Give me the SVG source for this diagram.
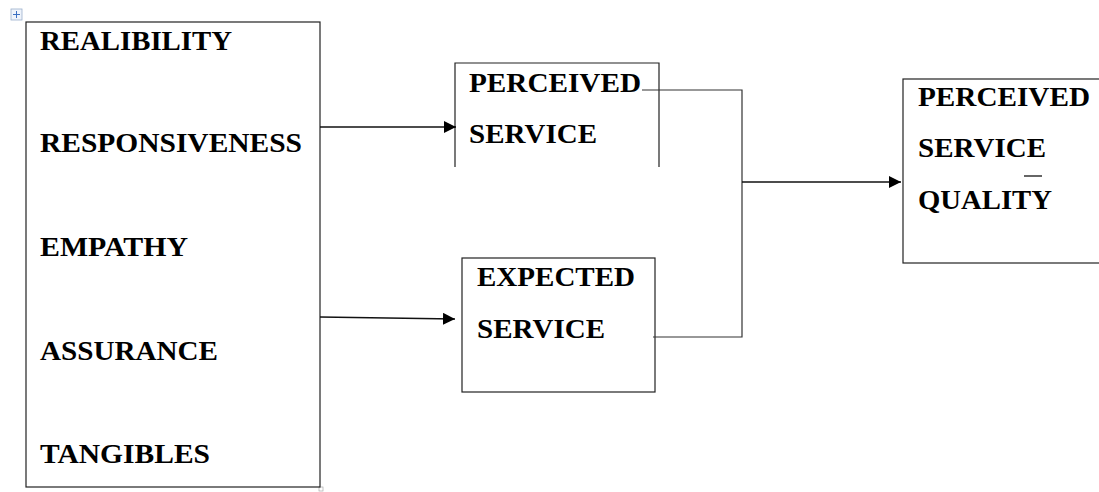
<svg xmlns="http://www.w3.org/2000/svg" width="1099" height="492" viewBox="0 0 1099 492">
<style>
text{font-family:"Liberation Serif","Times New Roman",serif;font-weight:bold;font-size:28px;fill:#000}
.box{fill:none;stroke:#222;stroke-width:1.2}
.ln{fill:none;stroke:#333;stroke-width:1.2}
.ar{fill:none;stroke:#111;stroke-width:1.6}
</style>
<defs>
<marker id="ah" markerWidth="12" markerHeight="12" refX="12" refY="6" orient="auto" markerUnits="userSpaceOnUse">
<path d="M0,0 L12,6 L0,12 Z" fill="#000"/>
</marker>
</defs>
<rect width="1099" height="492" fill="#fff"/>
<g id="handle">
<rect x="11" y="9" width="11" height="11" fill="#eef3fb" stroke="#9bb0cc" stroke-width="0.8"/>
<path d="M16.5,11 V18 M13,14.5 H20" stroke="#3a6fc2" stroke-width="1"/>
<rect x="319" y="487" width="4" height="4" fill="#fff" stroke="#aaa" stroke-width="0.7"/>
</g>
<g id="dimensions">
<rect class="box" x="26" y="22" width="294" height="465"/>
<text x="40" y="50" textLength="192" lengthAdjust="spacingAndGlyphs">REALIBILITY</text>
<text x="40" y="152" textLength="262" lengthAdjust="spacingAndGlyphs">RESPONSIVENESS</text>
<text x="40" y="256" textLength="148" lengthAdjust="spacingAndGlyphs">EMPATHY</text>
<text x="40" y="360" textLength="178" lengthAdjust="spacingAndGlyphs">ASSURANCE</text>
<text x="40" y="463" textLength="170" lengthAdjust="spacingAndGlyphs">TANGIBLES</text>
</g>
<g id="perceived">
<path class="box" d="M455,167 V63 H659 V167"/>
<text x="469" y="92" textLength="172" lengthAdjust="spacingAndGlyphs">PERCEIVED</text>
<text x="469" y="143" textLength="128" lengthAdjust="spacingAndGlyphs">SERVICE</text>
</g>
<g id="expected">
<rect class="box" x="462" y="258" width="193" height="134"/>
<text x="477" y="286" textLength="158" lengthAdjust="spacingAndGlyphs">EXPECTED</text>
<text x="477" y="338" textLength="128" lengthAdjust="spacingAndGlyphs">SERVICE</text>
</g>
<g id="quality">
<rect class="box" x="903" y="79" width="200" height="184"/>
<text x="918" y="106" textLength="172" lengthAdjust="spacingAndGlyphs">PERCEIVED</text>
<text x="918" y="157" textLength="128" lengthAdjust="spacingAndGlyphs">SERVICE</text>
<line x1="1024" y1="176" x2="1042" y2="176" stroke="#000" stroke-width="1.2"/>
<text x="918" y="209" textLength="134" lengthAdjust="spacingAndGlyphs">QUALITY</text>
</g>
<g id="connectors">
<line class="ar" x1="320" y1="127" x2="456" y2="127" marker-end="url(#ah)"/>
<line class="ar" x1="320" y1="317" x2="455" y2="319" marker-end="url(#ah)"/>
<path class="ln" d="M642,90 H742 V337 H653"/>
<line class="ar" x1="742" y1="182" x2="901" y2="182" marker-end="url(#ah)"/>
</g>
</svg>
